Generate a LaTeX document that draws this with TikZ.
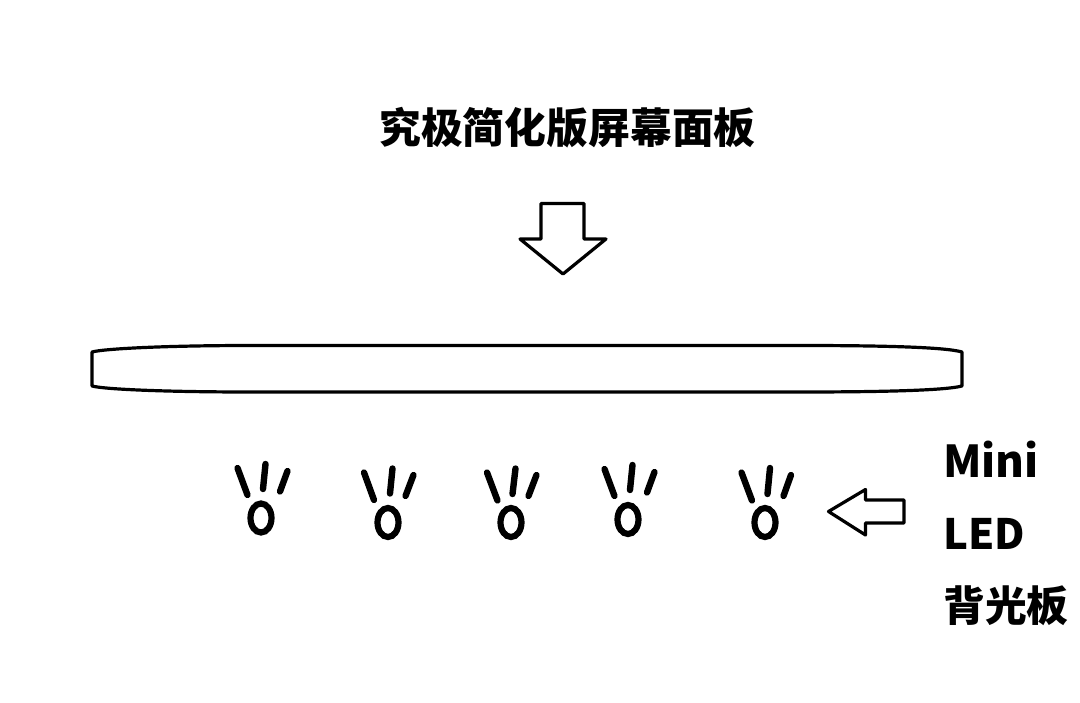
\documentclass[tikz,border=0pt]{standalone}
\usepackage{fontspec}
\newfontfamily\cjkbold{Noto Sans CJK SC Black}
\tikzset{
    led/.style={draw, ellipse, line width=6.2*0.02cm, minimum width=0.42cm, minimum height=0.58cm, inner sep=0},
    ray/.style={line width=6.4*0.02cm, line cap=round},
    outline/.style={draw, line width=3.2*0.02cm, line join=round},
    caption/.style={inner sep=0, font=\cjkbold\fontsize{23.8}{24}\selectfont},
}
\usetikzlibrary{shapes.geometric}
\begin{document}
\begin{tikzpicture}[x=0.02cm, y=-0.02cm]
    \useasboundingbox (0, 0) rectangle (1080, 703);

    \node[caption] (title) at (567.5, 128) {究极简化版屏幕面板};
    \node[caption, anchor=west, font=\cjkbold\fontsize{25}{25}\selectfont] (mini) at (943, 459.5) {Mini};
    \node[caption, anchor=west] (ledtext) at (943, 534) {LED};
    \node[caption, anchor=west] (backlight) at (943, 606) {背光板};

    \draw[outline] (541, 203.5) -- (584, 203.5) -- (584, 239) -- (606, 239) -- (563, 274) -- (520, 239) -- (541, 239) -- cycle;
    \draw[outline] (828.5, 511.5) -- (865.5, 489.5) -- (865.5, 500) -- (904, 500) -- (904, 523) -- (865.5, 523) -- (865.5, 535) -- cycle;

    \draw[outline] (92, 352) .. controls (105, 348.5) and (170, 345.5) .. (250, 345.5) -- (800, 345.5) .. controls (880, 345.5) and (945, 347) .. (962, 352) -- (962, 386) .. controls (945, 390.5) and (880, 392) .. (800, 392) -- (250, 392) .. controls (170, 392) and (105, 389.5) .. (92, 386) -- cycle;

    \node[led] (led1) at (261, 518) {};
    \node[led] (led2) at (388, 522.5) {};
    \node[led] (led3) at (511, 522.5) {};
    \node[led] (led4) at (628, 519.5) {};
    \node[led] (led5) at (765, 522.5) {};

    \draw[ray] (237.5, 468) -- (247.5, 495);
    \draw[ray] (265.5, 464) -- (263, 489);
    \draw[ray] (287.5, 471) -- (280, 491.5);

    \draw[ray] (364, 472.5) -- (374, 500);
    \draw[ray] (392.5, 468.5) -- (390, 493.5);
    \draw[ray] (413.5, 475) -- (405.5, 496);

    \draw[ray] (487, 472.5) -- (497.5, 500.5);
    \draw[ray] (515.5, 468.5) -- (512.5, 494);
    \draw[ray] (536.5, 475) -- (528.5, 496);

    \draw[ray] (604.5, 469) -- (614.5, 496);
    \draw[ray] (632.5, 465) -- (630, 490);
    \draw[ray] (654.5, 472) -- (647, 492.5);

    \draw[ray] (741.5, 472.5) -- (752, 500.5);
    \draw[ray] (770, 468) -- (767.5, 494);
    \draw[ray] (791, 475) -- (783.5, 496);
\end{tikzpicture}
\end{document}
